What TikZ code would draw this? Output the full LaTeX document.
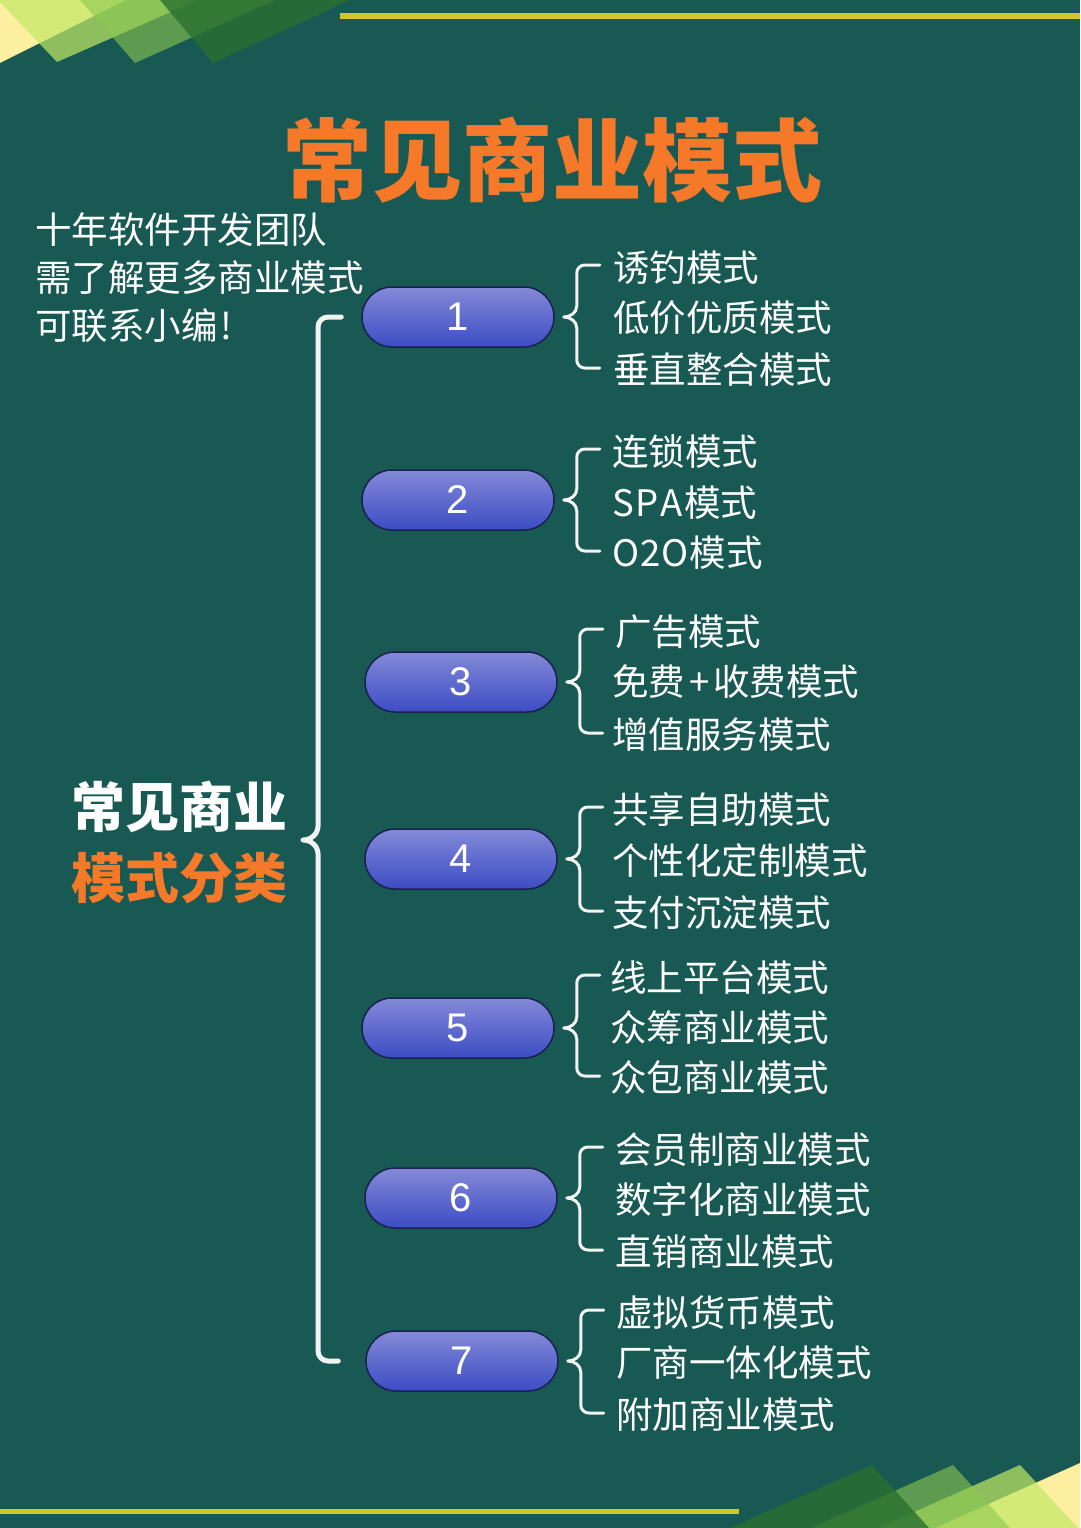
\documentclass[tikz,border=0pt]{standalone}
\usepackage{fontspec}
\setmainfont{Noto Sans CJK SC}
\newfontfamily\numfont{Liberation Sans}
\usetikzlibrary{calc}
\definecolor{bgteal}{RGB}{24,89,84}
\definecolor{lineyellow}{RGB}{212,196,48}
\definecolor{titleorange}{RGB}{245,121,40}
\definecolor{paleyellow}{RGB}{253,239,160}
\definecolor{limeA}{RGB}{194,233,101}
\definecolor{greenB}{RGB}{140,200,80}
\definecolor{greenC}{RGB}{42,112,48}
\definecolor{pilltop}{RGB}{132,138,216}
\definecolor{pillbot}{RGB}{60,76,196}
\definecolor{pillborder}{RGB}{26,32,78}
\definecolor{bracewhite}{RGB}{242,242,242}
\newcommand\smallbr[3]{%
 \draw[smallbrace] let \p1=(#1.east), \p2=(#2.west), \p3=(#3.west) in
 ({\x1+45pt},{\y2+3pt}) -- ({\x1+30pt},{\y2+3pt}) arc[start angle=90,end angle=180,radius=8pt]
 -- ({\x1+22pt},{\y1+11pt}) to[out=-90,in=0] ({\x1+9pt},\y1) to[out=0,in=90] ({\x1+22pt},{\y1-11pt})
 -- ({\x1+22pt},{\y3+10pt}) arc[start angle=180,end angle=270,radius=8pt] -- ({\x1+45pt},{\y3+2pt});}
\begin{document}
\begin{tikzpicture}[x=1pt,y=1pt,
 pill/.style={draw=pillborder,line width=1.5pt,top color=pilltop,bottom color=pillbot,
   rounded corners=30pt,minimum width=192pt,minimum height=60pt,inner sep=0pt,
   text=white,font=\numfont\fontsize{40}{40}\selectfont},
 item/.style={anchor=west,inner sep=0pt,text=white,font=\fontsize{36.5}{40}\selectfont},
 smallbrace/.style={draw=bracewhite,line width=3pt,line cap=round,line join=round},
 bigbrace/.style={draw=bracewhite,line width=5pt,line cap=round,line join=round},
 decoA/.style={fill=limeA,fill opacity=0.7},
 decoB/.style={fill=greenB,fill opacity=0.6},
 decoC/.style={fill=greenC,fill opacity=0.8}]
\useasboundingbox (0,0) rectangle (1080,-1528);
\fill[bgteal] (0,0) rectangle (1080,-1528);
% top-left decoration
\begin{scope}
\clip (0,0) rectangle (1080,-1528);
\fill[paleyellow] (0,0) -- (126,0) -- (0,-63) -- cycle;
\fill[decoA] (-2,0) -- (57,-62) -- (198,0) -- cycle;
\fill[decoB] (80,0) -- (135,-63) -- (275,0) -- cycle;
\fill[decoC] (160,0) -- (213,-63) -- (350,0) -- cycle;
% bottom-right decoration
\fill[paleyellow] (1080,-1463) -- (935,-1528) -- (1080,-1528) -- cycle;
\fill[decoA] (1020,-1465) -- (878,-1528) -- (1078,-1528) -- cycle;
\fill[decoB] (953,-1465) -- (811,-1528) -- (1010,-1528) -- cycle;
\fill[decoC] (872,-1465) -- (730,-1528) -- (929,-1528) -- cycle;
\end{scope}
% yellow rules
\fill[lineyellow] (340,-13.5) rectangle (1080,-19);
\fill[lineyellow] (0,-1508.5) rectangle (739,-1514);
% title
\node[text=titleorange,font=\bfseries\fontsize{90}{90}\selectfont,inner sep=0pt] (title) at (552,-160) {常见商业模式};
% subtitle
\node[item,anchor=west] (s1) at (35,-230) {十年软件开发团队};
\node[item,anchor=west] (s2) at (35,-278) {需了解更多商业模式};
\node[item,anchor=west] (s3) at (35,-326) {可联系小编\kern3pt!};
% left label
\node[text=white,font=\bfseries\fontsize{54}{54}\selectfont,inner sep=0pt] (l1) at (179,-807) {常见商业};
\node[text=titleorange,font=\bfseries\fontsize{54}{54}\selectfont,inner sep=0pt] (l2) at (179,-878) {模式分类};
% pills
\node[pill] (p1) at (458,-317) {1};
\node[pill] (p2) at (458,-500) {2};
\node[pill] (p3) at (461,-682) {3};
\node[pill] (p4) at (461,-859) {4};
\node[pill] (p5) at (458,-1028) {5};
\node[pill] (p6) at (461,-1198) {6};
\node[pill] (p7) at (462,-1361) {7};
% items
\node[item] (a1) at (613,-268) {诱钓模式};
\node[item] (a2) at (613,-318) {低价优质模式};
\node[item] (a3) at (613,-370) {垂直整合模式};
\node[item] (b1) at (612,-452) {连锁模式};
\node[item] (b2) at (612,-503) {S\kern1.5pt P\kern1.5pt A\kern2pt 模式};
\node[item] (b3) at (612,-553) {O\kern1pt 2\kern1pt O\kern1pt 模式};
\node[item] (c1) at (615,-632) {广告模式};
\node[item] (c2) at (612,-682) {免费\kern4pt+\kern4pt 收费模式};
\node[item] (c3) at (612,-735) {增值服务模式};
\node[item] (d1) at (612,-810) {共享自助模式};
\node[item] (d2) at (612,-861) {个性化定制模式};
\node[item] (d3) at (612,-913) {支付沉淀模式};
\node[item] (e1) at (610,-978) {线上平台模式};
\node[item] (e2) at (610,-1028) {众筹商业模式};
\node[item] (e3) at (610,-1078) {众包商业模式};
\node[item] (f1) at (615,-1150) {会员制商业模式};
\node[item] (f2) at (615,-1200) {数字化商业模式};
\node[item] (f3) at (615,-1252) {直销商业模式};
\node[item] (g1) at (616,-1313) {虚拟货币模式};
\node[item] (g2) at (616,-1363) {厂商一体化模式};
\node[item] (g3) at (616,-1415) {附加商业模式};
% small braces
\smallbr{p1}{a1}{a3}
\smallbr{p2}{b1}{b3}
\smallbr{p3}{c1}{c3}
\smallbr{p4}{d1}{d3}
\smallbr{p5}{e1}{e3}
\smallbr{p6}{f1}{f3}
\smallbr{p7}{g1}{g3}
% big brace
\coordinate (tip) at (303,-840);
\draw[bigbrace] ($(p1.west)+(-20,0)$) -- (328,-317) arc[start angle=90,end angle=180,radius=10]
  -- (318,-826) to[out=-90,in=0] (tip) to[out=0,in=90] (318,-854)
  -- (318,-1351) arc[start angle=180,end angle=270,radius=10] -- ($(p7.west)+(-27,0)$);
\end{tikzpicture}
\end{document}
